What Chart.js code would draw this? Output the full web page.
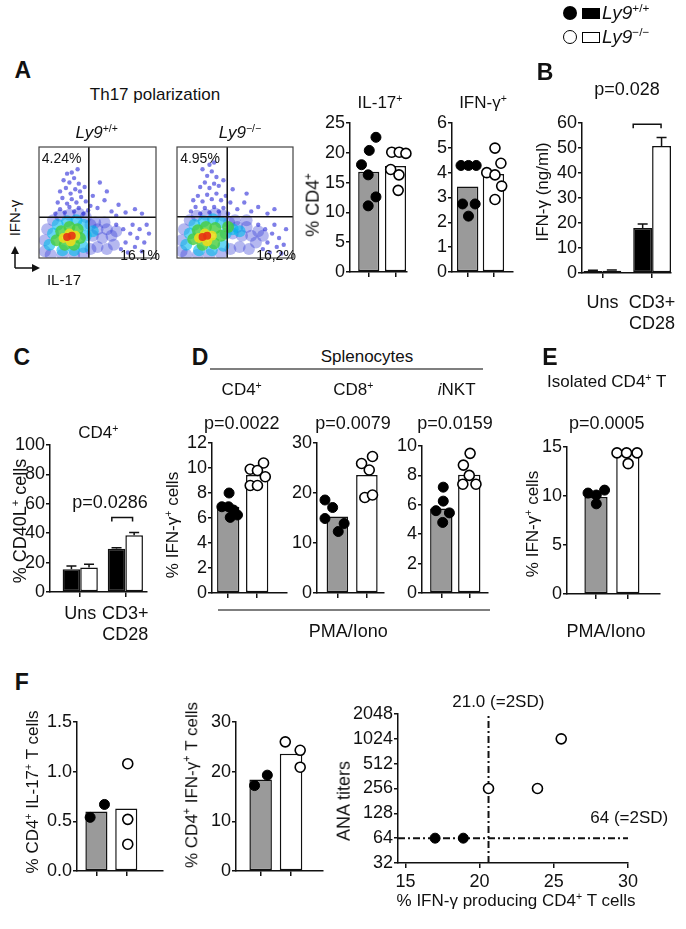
<!DOCTYPE html>
<html>
<head>
<meta charset="utf-8">
<script src="https://cdn.jsdelivr.net/npm/chart.js@4.4.1/dist/chart.umd.min.js"></script>
<style>
  html, body { margin: 0; padding: 0; background: #fff; }
  #page { position: relative; width: 686px; height: 929px; overflow: hidden; background: #fff;
          font-family: "Liberation Sans", Arial, sans-serif; color: #111; }
  .t { position: absolute; white-space: nowrap; line-height: 1.15; transform: translate(-50%, -50%); }
  .t.rot { transform: translate(-50%, -50%) rotate(-90deg); }
  .t.left { transform: translate(0, -50%); }
  .t.b { font-weight: bold; }
  .t sup { font-size: 0.62em; line-height: 0; vertical-align: 0.62em; }
  .mk { position: absolute; box-sizing: border-box; }
</style>
</head>
<body>
<div id="page">
  <svg width="686" height="929" style="position:absolute;left:0;top:0">
    <line x1="210" y1="369" x2="483" y2="369" stroke="#555" stroke-width="1.5"/>
    <line x1="218" y1="610" x2="490" y2="610" stroke="#555" stroke-width="1.5"/>
    <path d="M15 268 V252 M15 268 H34" stroke="#111" stroke-width="1.5" fill="none"/>
    <path d="M11 254 L15 246 L19 254 Z M32 264 L40 268 L32 272 Z" fill="#111"/>
  </svg>
</div>
<script>
// ---- values ----

// A: Th17 polarization flow plots, event clouds as density blobs [x %, y %, density level]
const flowWt = [
  [14,40,1],[18,44,1],[22,41,1],[26,46,1],[30,42,1],[34,45,1],[38,40,1],[42,43,1],[16,50,1],[20,54,1],
  [24,49,1],[28,53,1],[32,50,1],[36,55,1],[40,51,1],[18,60,1],[23,63,1],[27,58,1],[31,62,1],[35,60,1],
  [39,64,1],[21,70,1],[26,68,1],[30,72,1],[34,67,1],[28,77,1],[33,80,1],[24,76,1],[44,47,1],[46,56,1],
  [50,45,1],[56,52,1],[62,42,1],[68,48,1],[74,41,1],[82,44,1],[58,60,1],[66,38,1],[88,40,1],[52,68,1],
  [66,30,1],[72,26,1],[78,22,1],[84,18,1],[90,14,1],[94,22,1],[70,8,1],[76,5,1],[82,10,1],[88,6,1],
  [80,30,1],[86,26,1],[92,30,1],[74,14,1],
  [5,6,2],[5,16,2],[7,26,2],[12,34,2],[18,38,2],[26,39,2],[34,40,2],[40,37,2],[44,30,2],[46,20,2],
  [44,8,2],[38,4,2],[30,3,2],[20,3,2],[10,3,2],[50,26,2],[54,18,2],[58,26,2],[62,20,2],[50,10,2],
  [58,8,2],[64,12,2],[66,24,2],[48,32,2],[56,32,2],
  [9,12,3],[12,22,3],[16,30,3],[24,33,3],[32,34,3],[38,30,3],[40,20,3],[38,10,3],[30,7,3],[20,7,3],[46,24,3],
  [15,16,4],[19,24,4],[26,28,4],[33,26,4],[35,18,4],[30,12,4],[22,12,4],
  [21,18,5],[26,22,5],[31,20,5],[27,15,5],
  [24,19,6],[28,20,6]
];
const flowKo = [
  [12,42,1],[16,46,1],[20,40,1],[24,45,1],[28,41,1],[32,46,1],[36,42,1],[40,45,1],[44,40,1],[14,52,1],
  [18,56,1],[22,51,1],[26,57,1],[30,53,1],[34,58,1],[38,52,1],[42,56,1],[20,64,1],[24,68,1],[28,63,1],
  [32,67,1],[36,65,1],[26,74,1],[30,78,1],[34,73,1],[28,84,1],[32,86,1],[22,80,1],[46,50,1],[40,70,1],
  [52,44,1],[58,50,1],[64,42,1],[70,46,1],[78,40,1],[60,58,1],[84,44,1],[48,62,1],
  [70,30,1],[76,26,1],[82,22,1],[88,18,1],[92,12,1],[94,26,1],[74,8,1],[80,5,1],[86,10,1],[90,4,1],
  [84,30,1],[78,14,1],
  [4,6,2],[4,16,2],[6,26,2],[11,34,2],[17,38,2],[25,39,2],[33,40,2],[40,38,2],[45,32,2],[48,22,2],
  [46,8,2],[38,4,2],[28,3,2],[18,3,2],[8,3,2],[52,28,2],[56,20,2],[60,28,2],[64,20,2],[54,10,2],
  [62,8,2],[68,14,2],[70,24,2],[50,34,2],[60,34,2],[74,20,2],
  [8,12,3],[11,22,3],[15,30,3],[23,33,3],[31,35,3],[38,32,3],[42,22,3],[40,11,3],[30,7,3],[19,7,3],
  [48,26,3],[54,24,3],
  [14,17,4],[18,25,4],[25,28,4],[33,27,4],[38,20,4],[32,13,4],[22,12,4],[44,28,4],
  [19,18,5],[24,22,5],[30,20,5],[26,15,5],
  [22,19,6],[26,20,6]
];
const flowGateWt = [42.6, 36.7];
const flowGateKo = [43.3, 37.2];

// A: % CD4+ (bars = mean, dots = mice; x = 0 Ly9+/+, 1 Ly9-/-, with jitter)
const aIl17Mean = [16.8, 17.8];
const aIl17WtX = [-0.27, 0.02, 0.27, -0.02, 0.27, -0.02];
const aIl17WtY = [18.0, 20.4, 22.6, 16.3, 12.6, 11.1];
const aIl17KoX = [0.86, 1.14, 1.39, 0.82, 1.13, 1.10];
const aIl17KoY = [20.1, 20.1, 19.9, 17.2, 16.3, 13.7];

const aIfnMean = [3.44, 3.95];
const aIfnWtX = [-0.26, 0.03, 0.33, -0.20, 0.29, 0.03];
const aIfnWtY = [4.29, 4.29, 4.29, 2.74, 2.74, 2.25];
const aIfnKoX = [1.06, 1.29, 0.74, 1.06, 1.32, 1.06];
const aIfnKoY = [4.99, 4.38, 4.00, 3.91, 3.46, 2.92];

// B: IFN-γ (ng/ml)
const bCats = ['Uns', ['CD3+', 'CD28']];
const bWt = [0.8, 18.0];
const bKo = [0.9, 50.8];
const bWtErr = [0.3, 1.6];
const bKoErr = [0.3, 3.4];
const bBracket = [0.62, 1.18, 59.5];

// C: % CD40L+ cells
const cCats = ['Uns', ['CD3+', 'CD28']];
const cWt = [15.5, 29.5];
const cKo = [16.6, 38.6];
const cWtErr = [2.2, 0.6];
const cKoErr = [2.3, 1.9];
const cBracket = [0.70, 1.16, 50.7];

// D: splenocytes, % IFN-γ+ cells
const dCd4Mean = [6.9, 9.45];
const dCd4WtX = [0.03, -0.22, 0.01, 0.18, 0.32, 0.07];
const dCd4WtY = [8.0, 6.9, 6.9, 6.64, 6.24, 6.05];
const dCd4KoX = [1.22, 0.76, 1.01, 1.28, 0.76, 1.01];
const dCd4KoY = [10.4, 9.9, 9.8, 9.3, 8.6, 8.6];

const dCd8Mean = [15.3, 23.6];
const dCd8WtX = [-0.42, -0.16, -0.42, 0.23, 0.03];
const dCd8WtY = [18.6, 17.1, 14.9, 13.9, 12.3];
const dCd8KoX = [0.82, 1.19, 1.08, 0.93, 1.19];
const dCd8KoY = [25.9, 27.3, 24.6, 19.1, 19.6];

const dNktMean = [5.75, 8.05];
const dNktWtX = [0.07, 0.07, -0.19, 0.29, 0.05];
const dNktWtY = [7.2, 6.25, 5.6, 5.45, 4.8];
const dNktKoX = [1.03, 0.79, 1.00, 1.24, 0.77];
const dNktKoY = [9.5, 8.7, 8.0, 7.4, 7.4];

// E: isolated CD4+ T, % IFN-γ+ cells
const eMean = [9.9, 14.3];
const eWtX = [-0.25, 0.01, 0.27, 0.01];
const eWtY = [10.3, 10.1, 10.6, 9.2];
const eKoX = [0.66, 0.96, 1.29, 1.01];
const eKoY = [14.4, 14.4, 14.4, 13.3];

// F: aged mice
const fIl17Mean = [0.60, 0.63];
const fIl17WtX = [-0.21, 0.27];
const fIl17WtY = [0.54, 0.67];
const fIl17KoX = [1.05, 1.05, 1.05];
const fIl17KoY = [1.08, 0.52, 0.27];

const fIfnMean = [18.4, 23.6];
const fIfnWtX = [-0.20, 0.22];
const fIfnWtY = [17.2, 19.3];
const fIfnKoX = [0.81, 1.30, 1.30];
const fIfnKoY = [26.0, 24.3, 20.9];

const anaWtX = [17.0, 18.9];
const anaWtY = [64, 64];
const anaKoX = [20.6, 23.9, 25.5];
const anaKoY = [256, 256, 1024];
const anaCutX = 20.6;
const anaCutY = 64;
const anaTicks = [32, 64, 128, 256, 512, 1024, 2048];
const pctTicks = [15, 20, 25, 30];

// ---- drawing ----
const INK = '#111';
const GREY = '#9a9a9a';
const PAD = { t: 16, r: 34, b: 60, l: 50 };
const page = document.getElementById('page');

Chart.defaults.font.family = '"Liberation Sans", Arial, sans-serif';
Chart.defaults.font.size = 18;
Chart.defaults.color = INK;
Chart.defaults.animation = false;
Chart.defaults.plugins.legend.display = false;
Chart.defaults.plugins.tooltip.enabled = false;

// canvas placed so that the plot area lands on area = [left, top, right, bottom]
function mount(area, pad) {
  const p = pad || PAD;
  const l = Math.round(area[0]) - p.l, t = Math.round(area[1]) - p.t;
  const w = Math.round(area[2]) - Math.round(area[0]) + p.l + p.r;
  const h = Math.round(area[3]) - Math.round(area[1]) + p.t + p.b;
  const box = document.createElement('div');
  box.style.cssText = `position:absolute;left:${l}px;top:${t}px;width:${w}px;height:${h}px;`;
  const cv = document.createElement('canvas');
  box.appendChild(cv);
  page.appendChild(box);
  return cv;
}

function axisX(min, max, tickVals, labels, padding) {
  return {
    type: 'linear', min, max, offset: false,
    afterBuildTicks: s => { s.ticks = tickVals.map(v => ({ value: v })); },
    afterFit: s => { s.height = PAD.b; },
    grid: { display: true, drawOnChartArea: false, offset: false, tickLength: 5, color: INK, lineWidth: 1.5 },
    border: { display: true, color: INK, width: 1.5 },
    ticks: { padding: padding || 0, maxRotation: 0, autoSkip: false,
             callback: (v, i) => labels ? labels[i] : '' }
  };
}

function axisY(min, max, step, fmt) {
  return {
    type: 'linear', min, max,
    afterFit: s => { s.width = PAD.l; },
    grid: { display: true, drawOnChartArea: false, tickLength: 4, color: INK, lineWidth: 1.5 },
    border: { display: true, color: INK, width: 1.5 },
    ticks: { stepSize: step, padding: 1, callback: fmt || (v => v) }
  };
}

function dots(xs, ys, open) {
  return {
    type: 'line', showLine: false, clip: false, order: 0,
    data: xs.map((x, i) => ({ x, y: ys[i] })),
    pointRadius: 5, pointHoverRadius: 5,
    pointBackgroundColor: open ? '#fff' : '#000',
    pointBorderColor: '#000', pointBorderWidth: open ? 1.6 : 1
  };
}

function baseOptions(scales) {
  return {
    responsive: true, maintainAspectRatio: false, events: [],
    layout: { padding: { top: PAD.t, right: PAD.r, left: 0, bottom: 0 } },
    scales
  };
}

// mean bar + individual mice
function dotBars(area, xr, yr, ratio, means, wtX, wtY, koX, koY, fmt) {
  new Chart(mount(area), {
    type: 'bar',
    data: { datasets: [
      dots(wtX, wtY, false),
      dots(koX, koY, true),
      { type: 'bar', order: 1, data: means.map((y, i) => ({ x: i, y })),
        backgroundColor: [GREY, '#fff'], borderColor: INK, borderWidth: 1.5, borderSkipped: false,
        barPercentage: ratio, categoryPercentage: 1 }
    ] },
    options: baseOptions({ x: axisX(xr[0], xr[1], [0, 1]), y: axisY(yr[0], yr[1], yr[2], fmt) })
  });
}

const errorBars = {
  id: 'errorBars',
  afterDatasetsDraw(chart, args, opts) {
    const { ctx, scales } = chart;
    ctx.save();
    ctx.strokeStyle = INK;
    ctx.lineWidth = 1.5;
    opts.errs.forEach((errs, di) => {
      chart.getDatasetMeta(di).data.forEach((bar, j) => {
        const top = scales.y.getPixelForValue(chart.data.datasets[di].data[j].y + errs[j]);
        ctx.beginPath();
        ctx.moveTo(bar.x, bar.y); ctx.lineTo(bar.x, top);
        ctx.moveTo(bar.x - 5, top); ctx.lineTo(bar.x + 5, top);
        ctx.stroke();
      });
    });
    const [x1, x2, yv] = opts.bracket;
    const p1 = scales.x.getPixelForValue(x1), p2 = scales.x.getPixelForValue(x2);
    const py = scales.y.getPixelForValue(yv);
    ctx.beginPath();
    ctx.moveTo(p1, py + 4); ctx.lineTo(p1, py); ctx.lineTo(p2, py); ctx.lineTo(p2, py + 4);
    ctx.stroke();
    ctx.restore();
  }
};

// grouped black / white bars with SEM
function groupedBars(area, xr, yr, catPct, cats, wt, ko, wtErr, koErr, bracket, labelPad) {
  const opts = baseOptions({ x: axisX(xr[0], xr[1], [0, 1], cats, labelPad), y: axisY(yr[0], yr[1], yr[2]) });
  opts.plugins = { errorBars: { errs: [wtErr, koErr], bracket } };
  new Chart(mount(area), {
    type: 'bar',
    data: { datasets: [
      { data: wt.map((y, i) => ({ x: i, y })), backgroundColor: '#000', borderColor: INK, borderWidth: 1.5,
        borderSkipped: false, barPercentage: 1, categoryPercentage: catPct },
      { data: ko.map((y, i) => ({ x: i, y })), backgroundColor: '#fff', borderColor: INK, borderWidth: 1.5,
        borderSkipped: false, barPercentage: 1, categoryPercentage: catPct }
    ] },
    options: opts,
    plugins: [errorBars]
  });
}

// flow cytometry density plot
const DENS_R = [0, 2.2, 6, 6, 6, 5, 4];
const DENS_C = [null, 'rgba(40,40,215,0.6)', 'rgba(30,40,210,0.33)', 'rgba(0,185,235,0.6)',
                'rgba(70,205,60,0.8)', 'rgba(235,220,30,0.9)', 'rgba(230,50,20,0.9)'];
const frame = {
  id: 'frame',
  afterDraw(chart) {
    const a = chart.chartArea, ctx = chart.ctx;
    ctx.save();
    ctx.strokeStyle = '#444';
    ctx.lineWidth = 1.2;
    ctx.strokeRect(a.left, a.top, a.right - a.left, a.bottom - a.top);
    ctx.restore();
  }
};
function flowPlot(area, blobs, gate) {
  new Chart(mount(area, { t: 2, r: 2, b: 2, l: 2 }), {
    type: 'scatter',
    data: { datasets: [
      { order: 2, data: blobs.map(b => ({ x: b[0], y: b[1], l: b[2] })),
        pointRadius: c => DENS_R[c.raw.l], pointBackgroundColor: c => DENS_C[c.raw.l],
        pointBorderWidth: 0, pointBorderColor: 'rgba(0,0,0,0)' },
      { type: 'line', order: 1, data: [{ x: gate[0], y: 0 }, { x: gate[0], y: 100 }],
        borderColor: INK, borderWidth: 1.5, pointRadius: 0 },
      { type: 'line', order: 1, data: [{ x: 0, y: gate[1] }, { x: 100, y: gate[1] }],
        borderColor: INK, borderWidth: 1.5, pointRadius: 0 }
    ] },
    options: {
      responsive: true, maintainAspectRatio: false, events: [],
      layout: { padding: 2 },
      scales: { x: { display: false, min: 0, max: 100 }, y: { display: false, min: 0, max: 100 } }
    },
    plugins: [frame]
  });
}

flowPlot([35, 143, 160, 262], flowWt, flowGateWt);
flowPlot([173, 143, 297, 262], flowKo, flowGateKo);

dotBars([350, 123, 407, 272], [-0.70, 1.43], [0, 25, 5], 0.79, aIl17Mean, aIl17WtX, aIl17WtY, aIl17KoX, aIl17KoY);
dotBars([452, 123, 513, 272], [-0.61, 1.76], [0, 6, 1], 0.83, aIfnMean, aIfnWtX, aIfnWtY, aIfnKoX, aIfnKoY);
groupedBars([582, 123, 671, 273], [-0.41, 1.38], [0, 60, 10], 0.76, bCats, bWt, bKo, bWtErr, bKoErr, bBracket, 14);
groupedBars([50, 445, 147, 592], [-0.67, 1.48], [0, 100, 20], 0.78, cCats, cWt, cKo, cWtErr, cKoErr, cBracket, 6);

dotBars([212, 443, 287, 593], [-0.56, 2.03], [0, 12, 2], 0.77, dCd4Mean, dCd4WtX, dCd4WtY, dCd4KoX, dCd4KoY);
dotBars([317, 443, 384, 593], [-0.69, 1.58], [0, 30, 10], 0.73, dCd8Mean, dCd8WtX, dCd8WtY, dCd8KoX, dCd8KoY);
dotBars([422, 446, 488, 593], [-0.69, 1.67], [0, 10, 2], 0.80, dNktMean, dNktWtX, dNktWtY, dNktKoX, dNktKoY);
dotBars([567, 447, 660, 594], [-0.91, 2.01], [0, 15, 5], 0.73, eMean, eWtX, eWtY, eKoX, eKoY);

dotBars([77, 722, 163, 871], [-0.65, 2.23], [0, 1.5, 0.5], 0.74, fIl17Mean, fIl17WtX, fIl17WtY, fIl17KoX, fIl17KoY, v => v.toFixed(1));
dotBars([236, 722, 323, 871], [-0.81, 2.05], [0, 30, 10], 0.74, fIfnMean, fIfnWtX, fIfnWtY, fIfnKoX, fIfnKoY);

// ANA titers vs % IFN-γ producing CD4+ T cells
(function () {
  const dash = [7, 3, 2, 3];
  const x = axisX(14.5, 30, pctTicks, pctTicks, 3);
  const y = axisY(32, 2048);
  y.type = 'logarithmic';
  y.afterBuildTicks = s => { s.ticks = anaTicks.map(v => ({ value: v })); };
  y.ticks = { padding: 1, callback: v => v };
  new Chart(mount([398, 714, 628, 863]), {
    type: 'scatter',
    data: { datasets: [
      dots(anaWtX, anaWtY, false),
      dots(anaKoX, anaKoY, true),
      { type: 'line', order: 1, data: [{ x: anaCutX, y: 32 }, { x: anaCutX, y: 2048 }],
        borderColor: INK, borderWidth: 2, borderDash: dash, pointRadius: 0 },
      { type: 'line', order: 1, data: [{ x: 14.5, y: anaCutY }, { x: 30, y: anaCutY }],
        borderColor: INK, borderWidth: 2, borderDash: dash, pointRadius: 0 }
    ] },
    options: baseOptions({ x, y })
  });
})();

// ---- text ----
function txt(html, x, y, size, cls) {
  const d = document.createElement('div');
  d.className = 't' + (cls ? ' ' + cls : '');
  d.style.left = x + 'px';
  d.style.top = y + 'px';
  d.style.fontSize = size + 'px';
  d.innerHTML = html;
  page.appendChild(d);
}
const WT = '<i>Ly9</i><sup>+/+</sup>';
const KO = '<i>Ly9</i><sup>\u2212/\u2212</sup>';

[['A', 22.7, 70], ['B', 545, 72], ['C', 21.7, 356.7], ['D', 200, 356.7], ['E', 550, 356.7], ['F', 21.7, 681.7]]
  .forEach(([s, x, y]) => txt(s, x, y, 23, 'b'));

txt('Th17 polarization', 155, 95, 17);
txt(WT, 96.7, 133.3, 17);
txt(KO, 240, 133.3, 17);
txt('4.24%', 61.7, 158.3, 14);
txt('4.95%', 200, 158.3, 14);
txt('16.1%', 140, 255, 14);
txt('16,2%', 276, 255, 14);
txt('IFN-\u03b3', 15, 218, 15, 'rot');
txt('IL-17', 64, 280, 15);
txt('IL-17<sup>+</sup>', 380, 103, 17);
txt('IFN-\u03b3<sup>+</sup>', 483, 103, 17);
txt('% CD4<sup>+</sup>', 313, 205, 18, 'rot');

txt('p=0.028', 627, 89, 18);
txt('IFN-\u03b3 (ng/ml)', 543, 192, 17, 'rot');

txt(WT, 602, 13, 19, 'left');
txt(KO, 602, 37, 19, 'left');

txt('CD4<sup>+</sup>', 98.3, 433.3, 17);
txt('p=0.0286', 110, 501.7, 18);
txt('% CD40L<sup>+</sup> cells', 20, 521, 18, 'rot');

txt('Splenocytes', 367, 357, 17);
txt('CD4<sup>+</sup>', 241.7, 390, 17);
txt('CD8<sup>+</sup>', 353.3, 390, 17);
txt('<i>i</i>NKT', 456.7, 390, 17);
txt('p=0.0022', 241.7, 423.3, 18);
txt('p=0.0079', 353, 423.3, 18);
txt('p=0.0159', 455, 423.3, 18);
txt('% IFN-\u03b3<sup>+</sup> cells', 173.3, 525, 17, 'rot');
txt('PMA/Iono', 348.3, 631, 18);

txt('Isolated CD4<sup>+</sup> T', 606.7, 381.7, 17);
txt('p=0.0005', 606.7, 423.3, 18);
txt('% IFN-\u03b3<sup>+</sup> cells', 533.3, 524, 17, 'rot');
txt('PMA/Iono', 606, 631, 18);

txt('% CD4<sup>+</sup> IL-17<sup>+</sup> T cells', 33.3, 791.7, 17, 'rot');
txt('% CD4<sup>+</sup> IFN-\u03b3<sup>+</sup> T cells', 191.7, 785, 17, 'rot');
txt('ANA titers', 344, 801, 18, 'rot');
txt('21.0 (=2SD)', 498.3, 701.7, 17);
txt('64 (=2SD)', 629.3, 818.3, 17);
txt('% IFN-\u03b3 producing CD4<sup>+</sup> T cells', 516, 900.7, 17);

// legend glyphs
[['left:563px;top:6px;width:14px;height:14px;border-radius:50%;background:#000;'],
 ['left:582px;top:8px;width:18px;height:11px;background:#000;'],
 ['left:563px;top:30px;width:14px;height:14px;border-radius:50%;border:1.5px solid #000;'],
 ['left:582px;top:32px;width:18px;height:11px;border:1.5px solid #000;']]
  .forEach(([css]) => {
    const d = document.createElement('div');
    d.className = 'mk';
    d.style.cssText += css;
    page.appendChild(d);
  });
</script>
</body>
</html>
